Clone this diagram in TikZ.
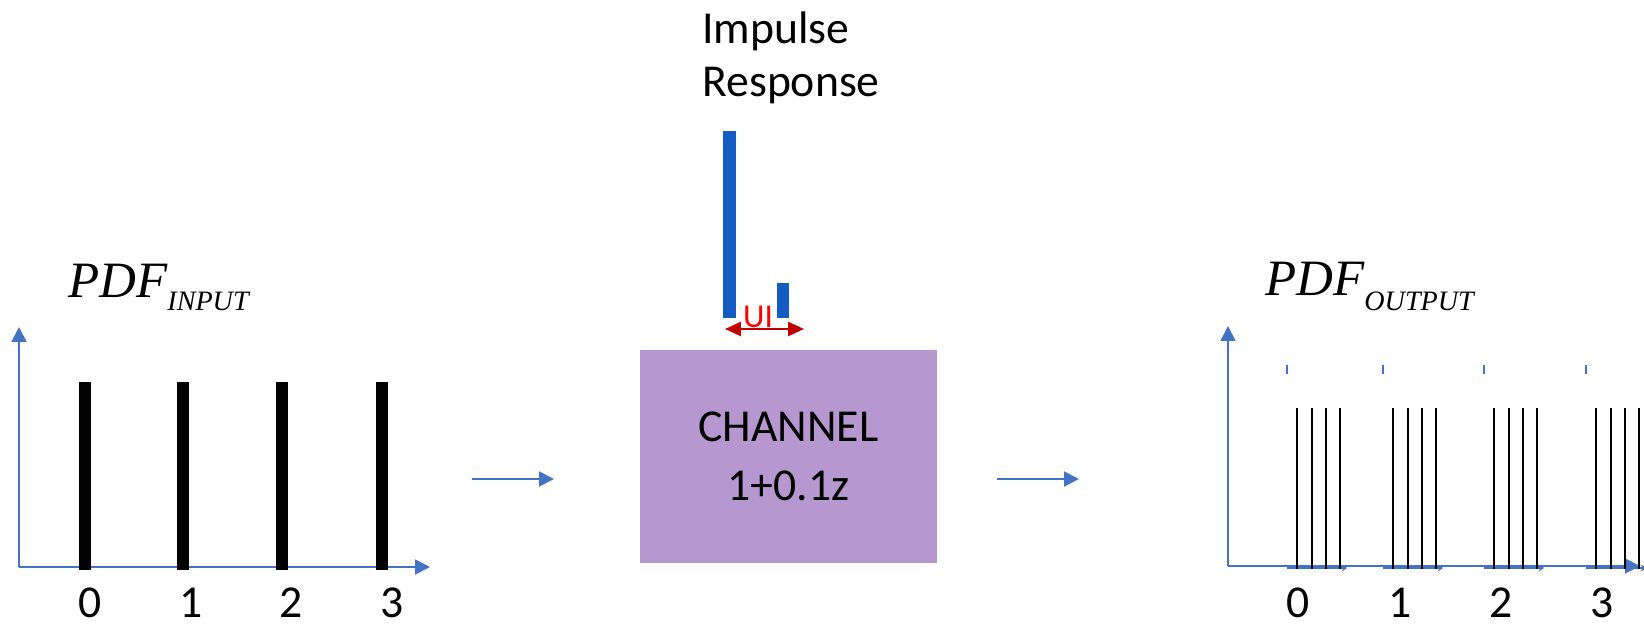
\documentclass[tikz,border=0pt]{standalone}
\usepackage{fontspec}
\setmainfont{Carlito}
\newfontfamily\timesfont{Liberation Serif}
\usetikzlibrary{positioning, arrows.meta}

\definecolor{axisblue}{RGB}{68,114,196}
\definecolor{barblue}{RGB}{20,92,196}
\definecolor{chanpurple}{RGB}{182,151,207}
\definecolor{uired}{RGB}{192,0,0}

\tikzset{
  axis/.style={axisblue, line width=1.1pt, -{Triangle[width=8.5pt,length=8.5pt]}},
  flow/.style={axisblue, line width=1.1pt, -{Triangle[width=8.5pt,length=8.5pt]}},
  ticklabel/.style={anchor=base, inner sep=0pt, font=\fontsize{26}{26}\selectfont},
  pdflabel/.style={anchor=base west, inner sep=0pt, font=\timesfont\itshape\fontsize{29}{29}\selectfont},
  channel/.style={fill=chanpurple, minimum width=5.94cm, minimum height=4.26cm, align=center,
    font=\fontsize{26}{33.6}\selectfont},
  uiarrow/.style={uired, line width=1.2pt, {Triangle[width=8pt,length=9pt]}-{Triangle[width=8pt,length=9pt]}},
}

\begin{document}
\begin{tikzpicture}
  \useasboundingbox (0,0) rectangle (32.88,-12.5);

  %Input PDF
  \coordinate (inO) at (0.38,-11.34);
  \coordinate (inY) at (0.38,-6.54);
  \coordinate (inX) at (8.60,-11.34);
  \draw[axis] (inO) -- (inY);
  \draw[axis] (inO) -- (inX);
  \foreach \x in {1.70,3.66,5.64,7.64}
    \fill (\x-0.12,-11.40) rectangle (\x+0.12,-7.64);
  \foreach \x/\l in {1.80/0,3.82/1,5.82/2,7.84/3}
    \node[ticklabel] (in\l) at (\x,-12.34) {\l};
  \node[pdflabel] (pdfin) at (1.36,-5.94) {PDF\raisebox{-0.26cm}{\fontsize{16}{16}\selectfont INPUT}};

  %Channel
  \node[channel] (chan) at (15.77,-9.13) {CHANNEL\\1+0.1z};
  \coordinate (inA) at (9.44,-9.58);
  \coordinate (inB) at (11.08,-9.58);
  \coordinate (outA) at (19.94,-9.58);
  \coordinate (outB) at (21.58,-9.58);
  \draw[flow] (inA) -- (inB);
  \draw[flow] (outA) -- (outB);

  %Impulse response
  \fill[barblue] (14.46,-6.36) rectangle (14.72,-2.62);
  \fill[barblue] (15.54,-6.36) rectangle (15.78,-5.66);
  \coordinate (uiL) at (14.50,-6.58);
  \coordinate (uiR) at (16.08,-6.58);
  \draw[uiarrow] (uiL) -- (uiR);
  \node[anchor=base, inner sep=0pt, text=red, font=\fontsize{19}{19}\selectfont] (ui) at (15.16,-6.54) {UI};
  \node[anchor=base west, inner sep=0pt, align=left, font=\fontsize{26}{30.7}\selectfont]
    (imp) at (14.04,-1.94) {Impulse\\Response};

  %Output PDF
  \coordinate (outO) at (24.56,-11.32);
  \coordinate (outY) at (24.56,-6.52);
  \coordinate (outX) at (32.80,-11.32);
  \draw[axis] (outO) -- (outY);
  \draw[axis] (outO) -- (outX);
  \foreach \t in {25.74,27.66,29.68,31.72}{
    \draw[axisblue, line width=1pt] (\t,-7.30) -- (\t,-7.48);
    \draw[axisblue, line width=0.6pt, -{Stealth[width=4pt,length=3pt]}] (\t,-11.36) -- (\t+1.2,-11.36);
    \foreach \d in {0.20,0.50,0.78,1.06}
      \draw[line width=0.9pt] (\t+\d,-11.38) -- (\t+\d,-8.16);
  }
  \foreach \x/\l in {25.96/0,28.00/1,30.02/2,32.04/3}
    \node[ticklabel] (out\l) at (\x,-12.34) {\l};
  \node[pdflabel] (pdfout) at (25.30,-5.90) {PDF\raisebox{-0.30cm}{\fontsize{16}{16}\selectfont OUTPUT}};
\end{tikzpicture}
\end{document}
